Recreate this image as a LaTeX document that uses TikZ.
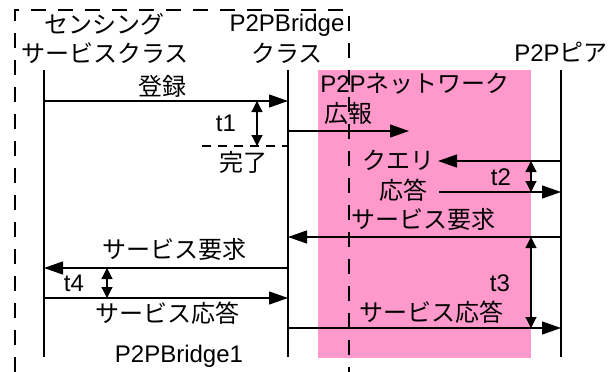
\documentclass[tikz,border=0pt]{standalone}
\usepackage{fontspec}
\setmainfont{Liberation Sans}
\newfontfamily\jp{Noto Sans CJK JP}
\usetikzlibrary{arrows.meta}
\definecolor{pinkbg}{HTML}{FF99CC}
\tikzset{
  lbl/.style={inner sep=0pt, font=\fontsize{24}{28}\selectfont\jp},
  lbllat/.style={inner sep=0pt, font=\fontsize{24}{28}\selectfont},
  life/.style={line width=1.2pt},
  msg/.style={line width=1.2pt, -{Triangle[length=19pt,width=13pt]}},
  dur/.style={line width=1.2pt, {Triangle[length=11pt,width=11pt]}-{Triangle[length=11pt,width=11pt]}},
  frame/.style={line width=1.2pt, dash pattern=on 15pt off 12pt},
  done/.style={line width=1.2pt, dash pattern=on 9pt off 7pt},
}
\begin{document}
\begin{tikzpicture}[x=1pt,y=-1pt]
\useasboundingbox (0,0) rectangle (613,372);
\fill[pinkbg] (318,70) rectangle (531,358);
% frame
\coordinate (fbl) at (15,372);
\coordinate (ftl) at (15,10);
\coordinate (ftr) at (349,10);
\coordinate (fbr) at (349,372);
\draw[frame] (fbl) -- (ftl) -- (ftr) -- (fbr);
% lifelines
\coordinate (s0) at (44,70);  \coordinate (s1) at (44,357);
\coordinate (b0) at (288,70); \coordinate (b1) at (288,357);
\coordinate (p0) at (561,70); \coordinate (p1) at (561,357);
\draw[life] (s0) -- (s1);
\draw[life] (b0) -- (b1);
\draw[life] (p0) -- (p1);
% headers
\node[lbl] (h1) at (104,24) {センシング};
\node[lbl] (h2) at (105,53) {サービスクラス};
\node[lbllat] (h3) at (287,25) {P2PBridge};
\node[lbl] (h4) at (287,53) {クラス};
\node[lbllat] (h5) at (561,52) {P2P{\jp ピア}};
% registration
\coordinate (r0) at (44,101); \coordinate (r1) at (288,101);
\draw[msg] (r0) -- (r1);
\node[lbl] (reg) at (162,86) {登録};
\coordinate (t1a) at (257,101); \coordinate (t1b) at (257,146);
\draw[dur] (t1a) -- (t1b);
\node[lbllat] (t1) at (226,123) {t1};
\coordinate (d0) at (202,146); \coordinate (d1) at (288,146);
\draw[done] (d0) -- (d1);
\node[lbl] (comp) at (243,162) {完了};
% advertisement
\node[lbllat] (net) at (415,84) {P2P{\jp ネットワーク}};
\node[lbl] (adv) at (348,113) {広報};
\coordinate (a0) at (288,131); \coordinate (a1) at (409,131);
\draw[msg] (a0) -- (a1);
% query / response
\coordinate (q0) at (561,161); \coordinate (q1) at (438,161);
\draw[msg] (q0) -- (q1);
\node[lbl] (qry) at (398,160) {クエリ};
\coordinate (rs0) at (439,192); \coordinate (rs1) at (561,192);
\draw[msg] (rs0) -- (rs1);
\node[lbl] (rsp) at (403,190) {応答};
\coordinate (t2a) at (531,161); \coordinate (t2b) at (531,192);
\draw[dur] (t2a) -- (t2b);
\node[lbllat] (t2) at (501,177) {t2};
% service request (peer -> bridge)
\coordinate (sr0) at (561,237); \coordinate (sr1) at (288,237);
\draw[msg] (sr0) -- (sr1);
\node[lbl] (srq) at (423,219) {サービス要求};
% service request (bridge -> sensing)
\coordinate (sl0) at (288,268); \coordinate (sl1) at (44,268);
\draw[msg] (sl0) -- (sl1);
\node[lbl] (slq) at (174,249) {サービス要求};
\coordinate (t4a) at (107,268); \coordinate (t4b) at (107,298);
\draw[dur] (t4a) -- (t4b);
\node[lbllat] (t4) at (74,283) {t4};
% service response (sensing -> bridge)
\coordinate (sp0) at (44,298); \coordinate (sp1) at (288,298);
\draw[msg] (sp0) -- (sp1);
\node[lbl] (spl) at (167,313) {サービス応答};
% service response (bridge -> peer)
\coordinate (pr0) at (288,328); \coordinate (pr1) at (561,328);
\draw[msg] (pr0) -- (pr1);
\node[lbl] (prl) at (431,312) {サービス応答};
\coordinate (t3a) at (531,237); \coordinate (t3b) at (531,328);
\draw[dur] (t3a) -- (t3b);
\node[lbllat] (t3) at (500,283) {t3};
% footer
\node[lbllat] (foot) at (179,356) {P2PBridge1};
\end{tikzpicture}
\end{document}
